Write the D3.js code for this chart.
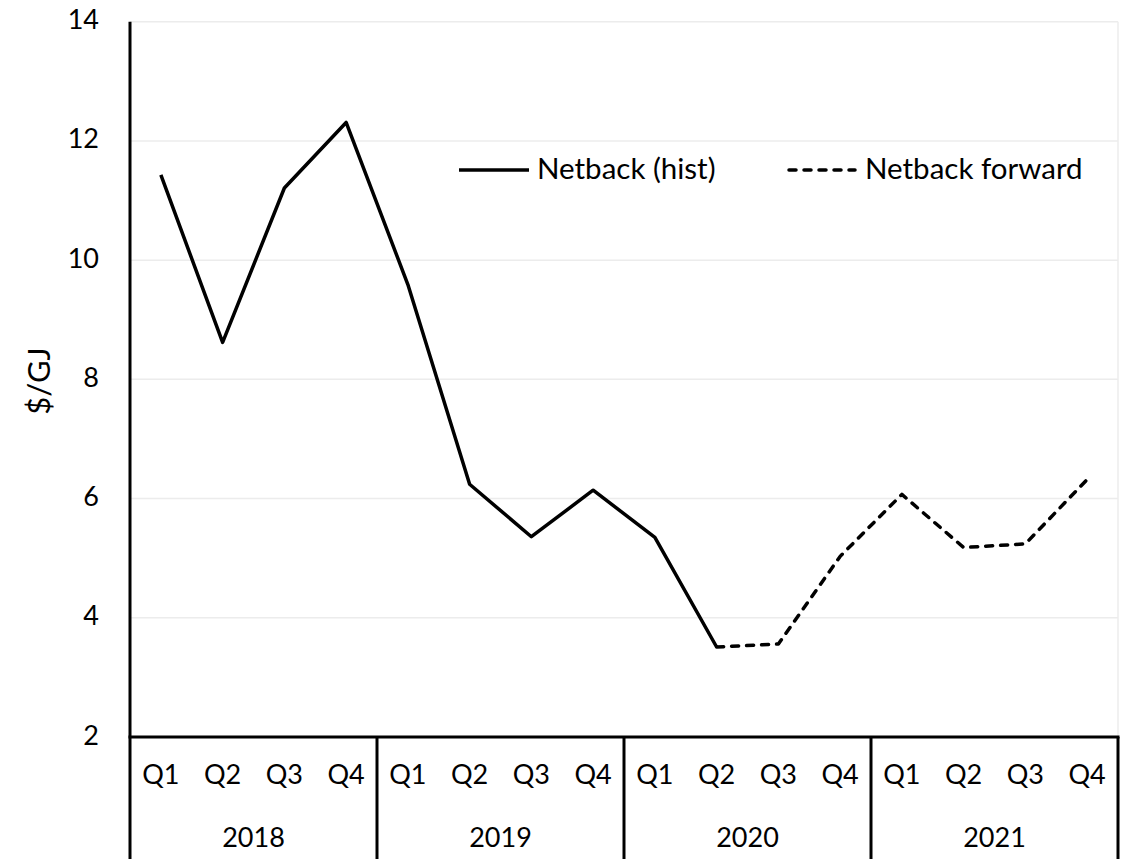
<!DOCTYPE html>
<html>
<head>
<meta charset="utf-8">
<script src="https://cdn.jsdelivr.net/npm/d3@7"></script>
<style>
  html, body { margin: 0; padding: 0; background: #fff; }
  svg { display: block; }
  text { font-family: Lato, "Open Sans", sans-serif; fill: #000; }
</style>
</head>
<body>
<svg id="chart" width="1125" height="859"></svg>
<script>
// Quarterly netback price, $/GJ
const years = ["2018", "2019", "2020", "2021"];
const quarters = ["Q1", "Q2", "Q3", "Q4"];
const yTicks = [2, 4, 6, 8, 10, 12, 14];

// Historical netback (Q1 2018 – Q2 2020)
const netbackHist = [11.43, 8.62, 11.21, 12.31, 9.59, 6.24, 5.36, 6.14, 5.35, 3.51,
                     null, null, null, null, null, null];
// Forward netback (Q2 2020 – Q4 2021)
const netbackForward = [null, null, null, null, null, null, null, null, null, 3.51,
                        3.56, 5.03, 6.07, 5.18, 5.24, 6.32];

const seriesNames = ["Netback (hist)", "Netback forward"];

const periods = years.flatMap(y => quarters.map(q => ({ year: y, quarter: q, key: y + "-" + q })));

const svg = d3.select("#chart");
const margin = { left: 130, right: 1118, top: 21.7, bottom: 737 };
const labelSize = 27;

const x = d3.scaleBand()
  .domain(periods.map(p => p.key))
  .range([margin.left, margin.right])
  .padding(0);

const y = d3.scaleLinear()
  .domain([2, 14])
  .range([margin.bottom, margin.top]);

// Gridlines
svg.append("g")
  .selectAll("line")
  .data(yTicks.filter(t => t > 2))
  .join("line")
  .attr("x1", margin.left)
  .attr("x2", margin.right)
  .attr("y1", d => y(d))
  .attr("y2", d => y(d))
  .attr("stroke", "#ececec")
  .attr("stroke-width", 1.5);

// Right border of plot area
svg.append("line")
  .attr("x1", margin.right).attr("x2", margin.right)
  .attr("y1", margin.top).attr("y2", margin.bottom)
  .attr("stroke", "#ececec").attr("stroke-width", 1.5);

// Y tick labels
svg.append("g")
  .selectAll("text")
  .data(yTicks)
  .join("text")
  .attr("x", 99)
  .attr("y", d => y(d) + 7.5)
  .attr("text-anchor", "end")
  .attr("font-size", labelSize)
  .text(d => d);

// Y axis title
svg.append("text")
  .attr("transform", "translate(50,381) rotate(-90)")
  .attr("text-anchor", "middle")
  .attr("font-size", 31)
  .text("$/GJ");

// Lines
const line = d3.line()
  .defined(d => d.v != null)
  .x(d => x(d.key) + x.bandwidth() / 2)
  .y(d => y(d.v));

const histData = periods.map((p, i) => ({ key: p.key, v: netbackHist[i] }));
const fwdData = periods.map((p, i) => ({ key: p.key, v: netbackForward[i] }));

svg.append("path")
  .datum(fwdData)
  .attr("d", line)
  .attr("fill", "none")
  .attr("stroke", "#000")
  .attr("stroke-width", 3.5)
  .attr("stroke-linecap", "round")
  .attr("stroke-linejoin", "round")
  .attr("stroke-dasharray", "7,8");

svg.append("path")
  .datum(histData)
  .attr("d", line)
  .attr("fill", "none")
  .attr("stroke", "#000")
  .attr("stroke-width", 3.5)
  .attr("stroke-linejoin", "round");

// Axes frame: left axis and category axis with year dividers
svg.append("line")
  .attr("x1", margin.left).attr("x2", margin.left)
  .attr("y1", margin.top).attr("y2", 859)
  .attr("stroke", "#000").attr("stroke-width", 3);

svg.append("line")
  .attr("x1", margin.left - 1.5).attr("x2", margin.right + 1.5)
  .attr("y1", margin.bottom).attr("y2", margin.bottom)
  .attr("stroke", "#000").attr("stroke-width", 3);

const yearEdges = years.map(yr => x(yr + "-Q4") + x.bandwidth());
svg.append("g")
  .selectAll("line")
  .data(yearEdges)
  .join("line")
  .attr("x1", d => d).attr("x2", d => d)
  .attr("y1", margin.bottom).attr("y2", 859)
  .attr("stroke", "#000").attr("stroke-width", 3);

// Quarter labels
svg.append("g")
  .selectAll("text")
  .data(periods)
  .join("text")
  .attr("x", d => x(d.key) + x.bandwidth() / 2)
  .attr("y", 784)
  .attr("text-anchor", "middle")
  .attr("font-size", labelSize)
  .text(d => d.quarter);

// Year labels
svg.append("g")
  .selectAll("text")
  .data(years)
  .join("text")
  .attr("x", d => (x(d + "-Q1") + x(d + "-Q4") + x.bandwidth()) / 2)
  .attr("y", 847)
  .attr("text-anchor", "middle")
  .attr("font-size", labelSize)
  .text(d => d);

// Legend
const legend = svg.append("g");
const legendItems = [
  { name: seriesNames[0], x0: 459, dash: null },
  { name: seriesNames[1], x0: 787, dash: "7,8" }
];
legendItems.forEach(it => {
  legend.append("line")
    .attr("x1", it.x0 + (it.dash ? 2 : 0)).attr("x2", it.x0 + 70 - (it.dash ? 2 : 0))
    .attr("y1", 170).attr("y2", 170)
    .attr("stroke", "#000").attr("stroke-width", 3.5)
    .attr("stroke-linecap", it.dash ? "round" : "butt")
    .attr("stroke-dasharray", it.dash);
  legend.append("text")
    .attr("x", it.x0 + 78)
    .attr("y", 178.5)
    .attr("font-size", 29.5)
    .text(it.name);
});
</script>
</body>
</html>
